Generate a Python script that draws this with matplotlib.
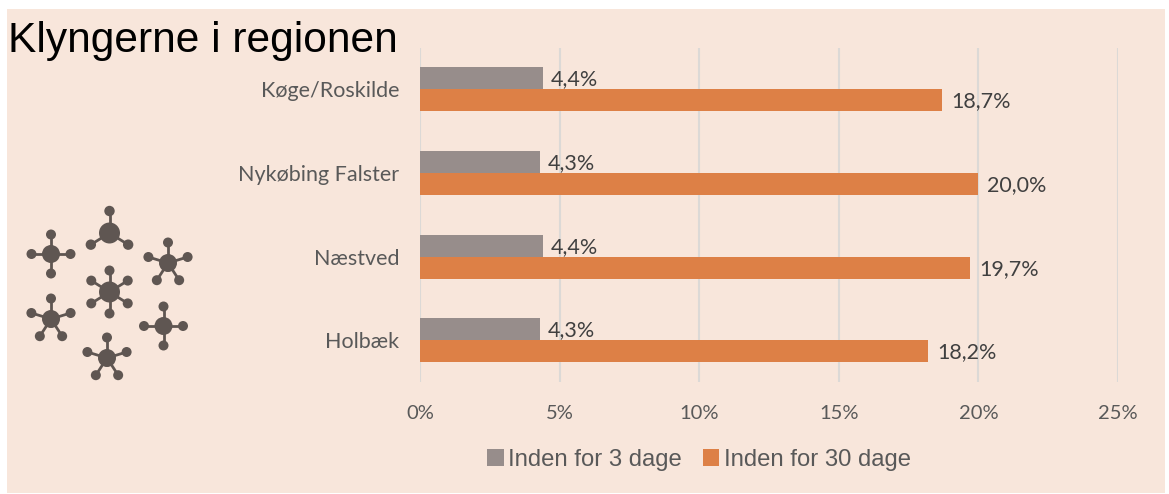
import numpy as np
import matplotlib
matplotlib.use("Agg")
import matplotlib.pyplot as plt
from matplotlib.patches import Rectangle, Circle

W, H = 1169, 494

categories = ["Holbæk", "Næstved", "Nykøbing Falster", "Køge/Roskilde"]
within_3 = [4.3, 4.4, 4.3, 4.4]
within_30 = [18.2, 19.7, 20.0, 18.7]
ticks = [0, 5, 10, 15, 20, 25]
series_names = ["Inden for 3 dage", "Inden for 30 dage"]

BG = "#f8e6db"
GREY = "#978d8b"
ORANGE = "#dd8046"
ICON = "#5f5652"
TEXT = "#595959"
LABEL = "#404040"


def comma(v):
    return f"{v:.1f}%".replace(".", ",")


def molecule(ax, cx, cy, arms, hub=9, tip=5, reach=20.5):
    # arms are angles in degrees, y axis points down in this overlay
    for a in arms:
        x = cx + reach * np.cos(np.radians(a))
        y = cy - reach * np.sin(np.radians(a))
        ax.plot([cx, x], [cy, y], color=ICON, lw=2.0, solid_capstyle="round")
        ax.add_patch(Circle((x, y), tip, color=ICON, lw=0))
    ax.add_patch(Circle((cx, cy), hub, color=ICON, lw=0))


fig = plt.figure(figsize=(W / 100, H / 100), dpi=100, facecolor="white")

# overlay in pixel coordinates for the panel, title and icon
bg = fig.add_axes([0, 0, 1, 1], zorder=0)
bg.set_xlim(0, W)
bg.set_ylim(H, 0)
bg.axis("off")
bg.add_patch(Rectangle((7, 9), 1158, 484, facecolor=BG, edgecolor="none"))

four = [90, 0, 270, 180]
five = [90, 17, 163, 303, 237]
six = [90, 32, 148, 212, 270, 328]
three = [90, 212, 328]
molecule(bg, 51, 254, four, reach=19.5)
molecule(bg, 109.5, 233, three, hub=10.5, tip=5.2, reach=22)
molecule(bg, 168, 263, five)
molecule(bg, 109.5, 292, six, hub=10.5, reach=21.5)
molecule(bg, 51, 319, five)
molecule(bg, 163.5, 326, four, reach=19.5)
molecule(bg, 107, 358, five)

bg.text(8.5, 52, "Klyngerne i regionen", family="Liberation Sans", fontsize=30.6,
        color="black", ha="left", va="baseline")

ax = fig.add_axes([420 / W, 1 - 382.3 / H, (1118 - 420) / W, 334.7 / H], zorder=1)
ax.patch.set_alpha(0)

y = np.arange(len(categories))
h = 0.263
ax.barh(y + h / 2, within_3, h, color=GREY, label=series_names[0], zorder=2)
ax.barh(y - h / 2, within_30, h, color=ORANGE, label=series_names[1], zorder=2)

for i in range(len(categories)):
    ax.annotate(comma(within_3[i]), (within_3[i], y[i] + h / 2), xytext=(8, -1),
                textcoords="offset pixels", va="center", ha="left",
                family="Lato", fontsize=15.5, color=LABEL, zorder=3)
    ax.annotate(comma(within_30[i]), (within_30[i], y[i] - h / 2), xytext=(9, -1),
                textcoords="offset pixels", va="center", ha="left",
                family="Lato", fontsize=15.5, color=LABEL, zorder=3)

ax.set_xlim(0, 25)
ax.set_ylim(-0.5, 3.5)
ax.set_xticks(ticks)
ax.set_xticklabels([f"{t}%" for t in ticks], family="Lato", fontsize=14.5, color=TEXT)
ax.set_yticks(y)
ax.set_yticklabels(categories, family="Lato", fontsize=15.5, color=TEXT)
ax.tick_params(length=0)
ax.tick_params(axis="x", pad=16)
ax.tick_params(axis="y", pad=15)
ax.grid(axis="x", color="#dcd9d6", lw=1.5, zorder=1)
ax.set_axisbelow(True)
for s in ax.spines.values():
    s.set_visible(False)

leg = ax.legend(loc="center", bbox_to_anchor=(699 / W, 1 - 460 / H), bbox_transform=fig.transFigure,
                ncol=2, frameon=False, handlelength=0.7, handleheight=0.7, handletextpad=0.2,
                columnspacing=0.85, prop={"family": "Liberation Sans", "size": 17.2})
for t in leg.get_texts():
    t.set_color(TEXT)

fig.savefig("out.png", dpi=100, facecolor="white")
